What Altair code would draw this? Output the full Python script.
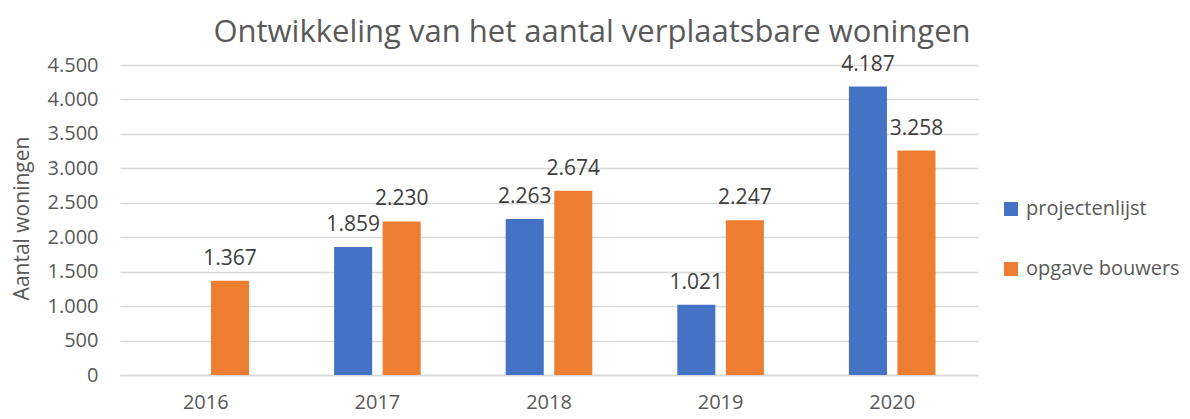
import altair as alt
import pandas as pd

years = ["2016", "2017", "2018", "2019", "2020"]
projectenlijst = [None, 1859, 2263, 1021, 4187]
opgave_bouwers = [1367, 2230, 2674, 2247, 3258]
series_names = ["projectenlijst", "opgave bouwers"]
colors = ["#4472C4", "#ED7D31"]
y_ticks = list(range(0, 5000, 500))

rows = []
for i, yr in enumerate(years):
    for name, vals in zip(series_names, [projectenlijst, opgave_bouwers]):
        if vals[i] is not None:
            rows.append({"jaar": yr, "reeks": name, "waarde": vals[i]})
df = pd.DataFrame(rows)

FONT = "Open Sans"
GREY = "#595959"

x = alt.X("jaar:N", sort=years, title=None,
          scale=alt.Scale(paddingInner=0, paddingOuter=0),
          axis=alt.Axis(labelAngle=0, labelFontSize=20, labelColor=GREY, labelFont=FONT,
                        ticks=False, labelPadding=17, domainColor="#d9d9d9", domainWidth=1.3))
xoff = alt.XOffset("reeks:N", sort=series_names,
                   scale=alt.Scale(domain=series_names, paddingInner=0.216, paddingOuter=0.876))
y = alt.Y("waarde:Q",
          scale=alt.Scale(domain=[0, 4500], nice=False),
          axis=alt.Axis(values=y_ticks, format=",d", title="Aantal woningen",
                        titleFontSize=21, titleColor=GREY, titleFont=FONT, titleFontWeight="normal",
                        titleAngle=-90, titleX=-98, titleY=153, titleAlign="center", titleBaseline="middle",
                        labelFontSize=20, labelColor=GREY, labelFont=FONT, labelPadding=22,
                        ticks=False, domain=False, gridColor="#d9d9d9", gridWidth=1.3))
color = alt.Color("reeks:N", sort=series_names,
                  scale=alt.Scale(domain=series_names, range=colors),
                  legend=alt.Legend(title=None, orient="none", legendX=881, legendY=134,
                                    symbolType="square", symbolSize=196, symbolStrokeWidth=0,
                                    labelFontSize=20, labelColor=GREY, labelFont=FONT,
                                    rowPadding=40, symbolOffset=0, labelOffset=5))

base = alt.Chart(df).encode(x=x, xOffset=xoff, y=y)
bars = base.mark_bar().encode(color=color)
labels = base.mark_text(dy=-16, baseline="alphabetic", fontSize=21, color="#404040", font=FONT).encode(
    text=alt.Text("waarde:Q", format=",d"))

chart = (bars + labels).properties(
    width=858, height=310,
    title=alt.TitleParams("Ontwikkeling van het aantal verplaatsbare woningen", fontSize=31,
                          color=GREY, font=FONT, fontWeight="normal", anchor="middle", dx=43, offset=5),
    autosize=alt.AutoSizeParams(type="none"),
    padding={"left": 112, "top": 57, "right": 204, "bottom": 42},
).configure_view(stroke=None)

chart.save("out.html", embed_options={
    "renderer": "svg", "actions": False,
    "formatLocale": {"decimal": ",", "thousands": ".", "grouping": [3], "currency": ["€", ""]},
})
